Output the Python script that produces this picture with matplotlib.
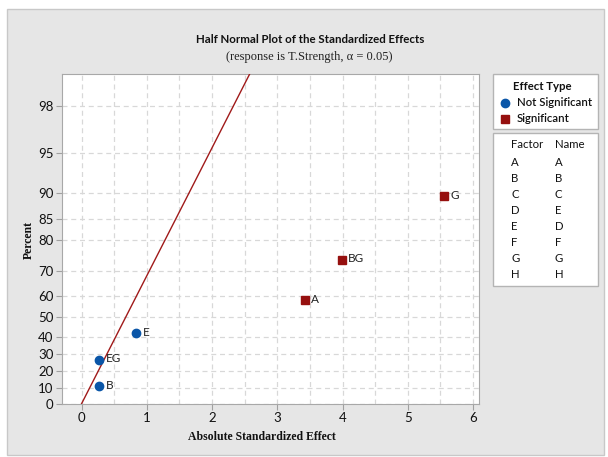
from statistics import NormalDist

import matplotlib
matplotlib.use('Agg')
from matplotlib import pyplot as plt
from matplotlib.patches import Rectangle
import numpy as np

# Effects (absolute standardized effect, half-normal percent)
labels = ['B', 'EG', 'E', 'A', 'BG', 'G']
effects = [0.27, 0.27, 0.84, 3.42, 3.99, 5.55]
percents = [11.0, 27.0, 42.0, 58.0, 74.0, 89.5]
significant = [False, False, False, True, True, True]

y_ticks = [0, 10, 20, 30, 40, 50, 60, 70, 80, 85, 90, 95, 98]
x_ticks = [0, 1, 2, 3, 4, 5, 6]

factors = ['A', 'B', 'C', 'D', 'E', 'F', 'G', 'H']
names = ['A', 'B', 'C', 'E', 'D', 'F', 'G', 'H']

BLUE = '#0a56a8'
RED = '#96100f'
UI_FONT = 'Lato'
SERIF = 'Liberation Serif'

nd = NormalDist()


def to_z(p):
    p = np.clip(np.asarray(p, dtype=float), 0, 99.9999)
    return np.array([nd.inv_cdf(0.5 + v / 200.0) for v in np.ravel(p)]).reshape(np.shape(p))


def to_p(z):
    z = np.asarray(z, dtype=float)
    return np.array([(2 * nd.cdf(v) - 1) * 100 for v in np.ravel(z)]).reshape(np.shape(z))


fig = plt.figure(figsize=(6.08, 4.57), dpi=100)
fig.patch.set_facecolor('white')

# grey frame of the graph window
fig.patches.append(Rectangle((7 / 608, 2 / 457), 597 / 608, 446 / 457, transform=fig.transFigure,
                             facecolor='#e6e6e6', edgecolor='#c8c8c8', lw=1, zorder=-5))

ax = fig.add_axes([62 / 608, 53.3 / 457, 417 / 608, 329.7 / 457])
ax.set_zorder(2)
ax.set_yscale('function', functions=(to_z, to_p))
ax.set_xlim(-0.3, 6.09)
ax.set_ylim(0, 99.0)

# reference line
xl = np.linspace(0, 2.7, 60)
ax.plot(xl, to_p(xl), color='#a01a1a', lw=1, zorder=3)

for x, p, lab, sig in zip(effects, percents, labels, significant):
    if sig:
        ax.plot(x, p, marker='s', ms=5.4, color=RED, ls='none', zorder=4)
    else:
        ax.plot(x, p, marker='o', ms=6, color=BLUE, ls='none', zorder=4)
    ax.annotate(lab, (x, p), xytext=(4.5, 0.5), textcoords='offset points', va='center', ha='left',
                fontsize=8.5, family=UI_FONT, color='#222222')

ax.set_yticks(y_ticks)
ax.set_yticklabels([str(t) for t in y_ticks])
ax.set_xticks(x_ticks)
ax.set_xticks(np.arange(0.5, 6.1, 1.0), minor=True)
ax.yaxis.set_minor_locator(matplotlib.ticker.NullLocator())
ax.grid(True, which='both', axis='x', ls=(0, (4, 3)), color='#d8d8d8', lw=0.9)
ax.grid(True, which='major', axis='y', ls=(0, (4, 3)), color='#d8d8d8', lw=0.9)
ax.set_axisbelow(True)
ax.tick_params(axis='both', which='major', length=4, color='#a0a0a0', labelsize=9.5, pad=2,
               labelcolor='#111111')
ax.tick_params(axis='x', which='minor', length=0)
for lbl in ax.get_xticklabels() + ax.get_yticklabels():
    lbl.set_family(UI_FONT)
for s in ax.spines.values():
    s.set_color('#a8a8a8')

fig.text(262 / 608, 1 - 437 / 457, 'Absolute Standardized Effect', ha='center', va='center',
         family=SERIF, fontweight='bold', fontsize=8.5, color='#111111')
fig.text(29 / 608, 1 - 240 / 457, 'Percent', ha='center', va='center', rotation=90,
         family=SERIF, fontweight='bold', fontsize=8.5, color='#111111')

fig.text(310 / 608, 1 - 39.3 / 457, 'Half Normal Plot of the Standardized Effects', ha='center', va='center',
         family=UI_FONT, fontsize=8.3, fontweight='bold', color='#111111')
fig.text(309 / 608, 1 - 57.3 / 457, '(response is T.Strength, \u03b1 = 0.05)', ha='center', va='center',
         family=SERIF, fontsize=9.0, color='#222222')


# legend boxes
def fig_rect(x0, y0, x1, y1):
    fig.patches.append(Rectangle((x0 / 608, 1 - y1 / 457), (x1 - x0) / 608, (y1 - y0) / 457,
                                 transform=fig.transFigure, facecolor='white', edgecolor='#b4b4b4',
                                 lw=1, zorder=1))


def fig_txt(x, y, s, **kw):
    fig.text(x / 608, 1 - y / 457, s, va='center', family=UI_FONT, fontsize=8.2, color='#111111', **kw)


fig_rect(493.3, 74, 598.3, 129.3)
fig_txt(542.7, 86, 'Effect Type', ha='center', fontweight='bold')
fig.lines.append(plt.Line2D([505 / 608], [1 - 102.7 / 457], marker='o', ms=6, color=BLUE,
                            transform=fig.transFigure, ls='none'))
fig.lines.append(plt.Line2D([505 / 608], [1 - 118.7 / 457], marker='s', ms=5.4, color=RED,
                            transform=fig.transFigure, ls='none'))
fig_txt(516.7, 102.7, 'Not Significant', ha='left', fontweight='semibold')
fig_txt(516.7, 118.7, 'Significant', ha='left', fontweight='semibold')

fig_rect(493.3, 132.7, 598.3, 285.7)
fig_txt(511, 145, 'Factor', ha='left')
fig_txt(554.7, 145, 'Name', ha='left')
for i, (f, n) in enumerate(zip(factors, names)):
    y = 162.7 + i * 16.0
    fig_txt(511, y, f, ha='left')
    fig_txt(554.7, y, n, ha='left')

fig.savefig('out.png', dpi=100)
